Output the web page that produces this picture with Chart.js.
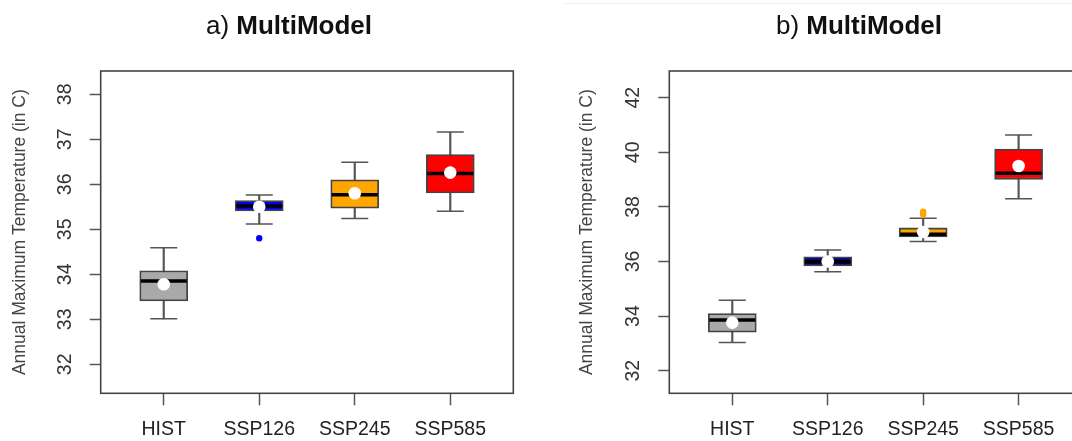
<!DOCTYPE html>
<html>
<head>
<meta charset="utf-8">
<title>MultiModel</title>
<script src="https://cdn.jsdelivr.net/npm/chart.js@4.4.0/dist/chart.umd.min.js"></script>
<style>
html, body { margin:0; padding:0; background:#fff; overflow:hidden; }
body { width:1072px; height:441px; position:relative; font-family:"Liberation Sans", Arial, sans-serif; }
.panel { position:absolute; top:0; height:441px; }
#panelA { left:0; width:540px; }
#panelB { left:540px; width:545px; }
.title { position:absolute; top:10px; font-size:26px; line-height:30px; color:#111; white-space:nowrap; transform:translateX(-50%); z-index:2; }
#topline { position:absolute; left:565px; top:3px; width:507px; height:1px; background:#ececec; }
</style>
</head>
<body>
<div id="topline"></div>
<div class="title" style="left:289px">a) <b>MultiModel</b></div>
<div class="title" style="left:859px">b) <b>MultiModel</b></div>
<div class="panel" id="panelA"><canvas id="chartA" width="540" height="441"></canvas></div>
<div class="panel" id="panelB"><canvas id="chartB" width="545" height="441"></canvas></div>
<script>
var scenarios = ["HIST", "SSP126", "SSP245", "SSP585"];
var positions = [1, 2, 3, 4];

// a) MultiModel
var lowA  = [33.01, 35.12, 35.24, 35.40];
var q1A   = [33.41, 35.41, 35.47, 35.81];
var medA  = [33.85, 35.52, 35.77, 36.24];
var q3A   = [34.08, 35.64, 36.10, 36.66];
var highA = [34.59, 35.76, 36.49, 37.16];
var meanA = [33.78, 35.50, 35.80, 36.26];
var outXA = [2];
var outYA = [34.80];
var yTicksA = [32, 33, 34, 35, 36, 37, 38];

// b) MultiModel
var lowB  = [33.03, 35.62, 36.73, 38.30];
var q1B   = [33.41, 35.84, 36.90, 39.01];
var medB  = [33.86, 35.99, 37.00, 39.23];
var q3B   = [34.09, 36.17, 37.23, 40.12];
var highB = [34.58, 36.42, 37.58, 40.63];
var meanB = [33.76, 36.00, 37.08, 39.50];
var outXB = [3, 3];
var outYB = [37.82, 37.72];
var yTicksB = [32, 34, 36, 38, 40, 42];

var fillA = ["#a9a9a9", "#0000ff", "#ffa500", "#ff0000"];
var fillB = ["#a9a9a9", "#00008b", "#ffa500", "#ff0000"];

var FONT = '"Liberation Sans", Arial, sans-serif';

function pts(xs, ys) {
  return xs.map(function (x, i) { return {x: x, y: ys[i]}; });
}
function ranges(xs, lo, hi) {
  return xs.map(function (x, i) { return {x: x, y: [lo[i], hi[i]]}; });
}

function makeChart(id, d) {
  // frame round the plot region + R style tick labels (y ones rotated)
  var framePlugin = {
    id: 'frame',
    afterDraw: function (chart) {
      var ctx = chart.ctx, a = chart.chartArea, ys = chart.scales.y, xs = chart.scales.x;
      ctx.save();
      ctx.strokeStyle = '#444';
      ctx.lineWidth = 1.6;
      ctx.strokeRect(a.left, a.top, a.right - a.left, a.bottom - a.top);
      ctx.font = '19.5px ' + FONT;
      ctx.textAlign = 'center';
      ctx.textBaseline = 'middle';
      ctx.fillStyle = '#333';
      d.yTicks.forEach(function (v) {
        ctx.save();
        ctx.translate(d.tickLabelX, ys.getPixelForValue(v));
        ctx.rotate(-Math.PI / 2);
        ctx.fillText(String(v), 0, 0);
        ctx.restore();
      });
      ctx.fillStyle = '#222';
      positions.forEach(function (v, i) {
        ctx.fillText(scenarios[i], xs.getPixelForValue(v), 430);
      });
      ctx.restore();
    }
  };

  return new Chart(document.getElementById(id), {
    type: 'scatter',
    data: {
      datasets: [
        { type: 'scatter', data: pts(d.outX, d.outY), pointRadius: 3.2, backgroundColor: d.outColor, borderWidth: 0, order: 0 },
        { type: 'scatter', data: pts(positions, d.mean), pointRadius: 6.3, backgroundColor: '#ffffff', borderWidth: 0, order: 1 },
        { type: 'scatter', data: pts(positions, d.med), pointStyle: 'line', pointRadius: 23, borderColor: '#000', borderWidth: 3.5, order: 2 },
        { type: 'bar', data: ranges(positions, d.q1, d.q3), backgroundColor: d.fill, borderColor: '#444', borderWidth: 1.8,
          borderSkipped: false, barThickness: 48, grouped: false, order: 3 },
        { type: 'scatter', data: pts(positions, d.low).concat(pts(positions, d.high)), pointStyle: 'line', pointRadius: 13.5,
          borderColor: '#555', borderWidth: 1.5, order: 4 },
        { type: 'bar', data: ranges(positions, d.low, d.high), backgroundColor: '#555', barThickness: 1.5, grouped: false, order: 5 }
      ]
    },
    options: {
      responsive: false,
      animation: false,
      events: [],
      // no auto padding: the wide 'line' points would push the right edge in
      layout: { autoPadding: false, padding: { top: 71, left: 0, right: d.padRight, bottom: 0 } },
      plugins: { legend: { display: false }, tooltip: { enabled: false } },
      scales: {
        x: {
          type: 'linear', min: 0.34, max: 4.66, offset: false,
          afterBuildTicks: function (s) { s.ticks = positions.map(function (v) { return {value: v}; }); },
          afterFit: function (s) { s.height = 47.7; },
          ticks: { display: false },
          grid: { drawOnChartArea: false, offset: false, tickLength: 12, tickWidth: 1.5, tickColor: '#555' },
          border: { display: false }
        },
        y: {
          type: 'linear', min: d.yMin, max: d.yMax,
          afterBuildTicks: function (s) { s.ticks = d.yTicks.map(function (v) { return {value: v}; }); },
          afterFit: function (s) { s.width = d.yWidth; },
          ticks: { display: false },
          grid: { drawOnChartArea: false, tickLength: 11, tickWidth: 1.5, tickColor: '#555' },
          border: { display: false },
          title: { display: true, text: 'Annual Maximum Temperature (in C)', color: '#444',
                   font: { size: 17.5, family: FONT }, padding: { top: d.titlePad, bottom: 0 } }
        }
      }
    },
    plugins: [framePlugin]
  });
}

makeChart('chartA', {
  low: lowA, q1: q1A, med: medA, q3: q3A, high: highA, mean: meanA,
  outX: outXA, outY: outYA, outColor: '#0000ff', fill: fillA,
  yMin: 31.356, yMax: 38.518, yTicks: yTicksA,
  yWidth: 100.7, padRight: 26.7, titlePad: 9.2, tickLabelX: 65.5
});

makeChart('chartB', {
  low: lowB, q1: q1B, med: medB, q3: q3B, high: highB, mean: meanB,
  outX: outXB, outY: outYB, outColor: '#ffa500', fill: fillB,
  yMin: 31.172, yMax: 42.978, yTicks: yTicksB,
  yWidth: 129.3, padRight: 3.4, titlePad: 37.1, tickLabelX: 93.5
});
</script>
</body>
</html>
